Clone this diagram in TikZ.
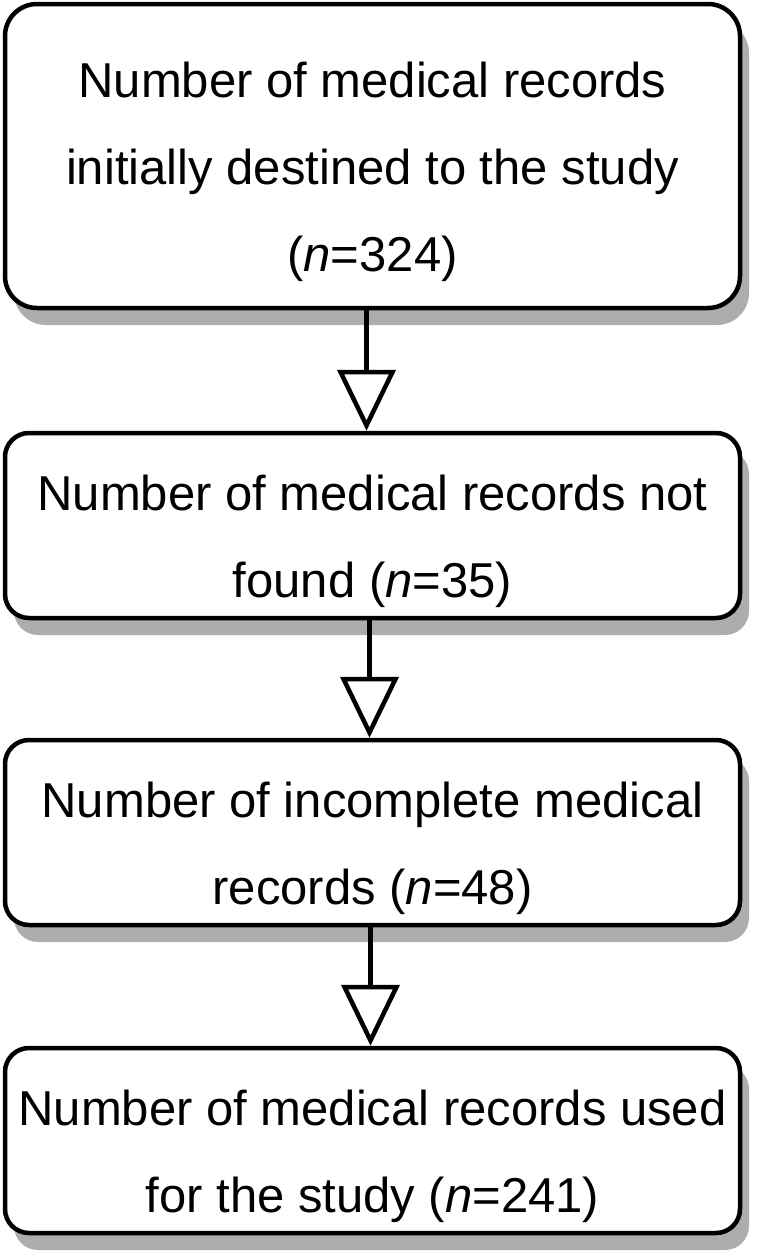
\documentclass[tikz,border=0pt]{standalone}
\usepackage{fontspec}
\setmainfont{Liberation Sans}
\usetikzlibrary{arrows.meta,shadows}
\newcommand{\lowerstrut}{\rule{0pt}{68pt}}
\begin{document}
\begin{tikzpicture}[x=1pt,y=-1pt,
  stagebox/.style={draw=black, line width=4.5pt, fill=white, rounded corners=24pt,
    minimum width=735pt, minimum height=185pt, align=center, inner sep=0pt,
    font=\fontsize{49}{87}\selectfont,
    drop shadow={shadow xshift=9pt, shadow yshift=-17pt, fill=black!32, opacity=1}},
  flowarrow/.style={line width=4.5pt, -{Triangle[open,length=61pt,width=58pt,line width=4.5pt]}}
]
\useasboundingbox (0,0) rectangle (756,1256);
\node[stagebox, minimum height=304pt, rounded corners=32pt] (b1) at (372.5,156)
  {\lowerstrut Number of medical records\\initially destined to the study\\(\textit{n}=324)};
\node[stagebox] (b2) at (372.5,525.5)
  {\lowerstrut Number of medical records not\\found (\textit{n}=35)};
\node[stagebox] (b3) at (372.5,832.5)
  {\lowerstrut Number of incomplete medical\\records (\textit{n}=48)};
\node[stagebox] (b4) at (372.5,1140.5)
  {\lowerstrut Number of medical records used\\for the study (\textit{n}=241)};
\draw[flowarrow] ([xshift=-6pt]b1.south) -- ([xshift=-6pt]b2.north);
\draw[flowarrow] ([xshift=-3pt]b2.south) -- ([xshift=-3pt]b3.north);
\draw[flowarrow] ([xshift=-2pt]b3.south) -- ([xshift=-2pt]b4.north);
\end{tikzpicture}
\end{document}
